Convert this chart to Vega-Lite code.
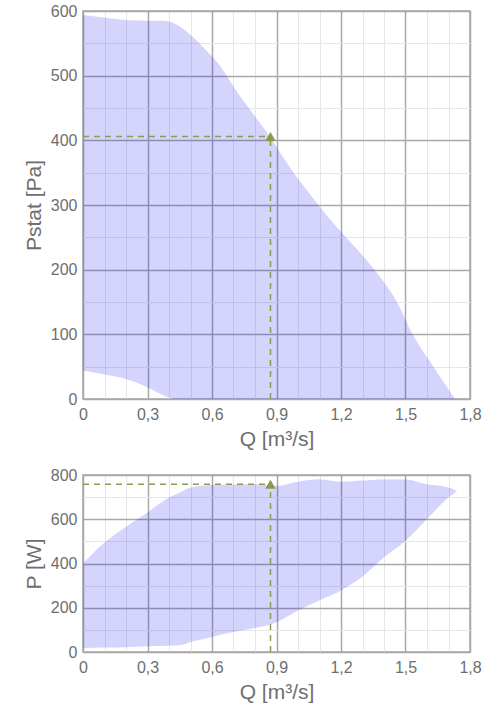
{
  "$schema": "https://vega.github.io/schema/vega-lite/v6.json",
  "padding": {"left": 22, "top": 2, "right": 10, "bottom": 5},
  "spacing": 16,
  "datasets": {
    "pstat": [
      {"q": 0, "hi": 594, "lo": 44},
      {"q": 0.1, "hi": 590, "lo": 38},
      {"q": 0.2, "hi": 586, "lo": 31},
      {"q": 0.3, "hi": 585, "lo": 18},
      {"q": 0.37, "hi": 585, "lo": 6},
      {"q": 0.43, "hi": 580, "lo": 0},
      {"q": 0.45, "hi": 576, "lo": 0},
      {"q": 0.51, "hi": 560, "lo": 0},
      {"q": 0.57, "hi": 540, "lo": 0},
      {"q": 0.64, "hi": 514, "lo": 0},
      {"q": 0.7, "hi": 483, "lo": 0},
      {"q": 0.78, "hi": 446, "lo": 0},
      {"q": 0.87, "hi": 405, "lo": 0},
      {"q": 0.96, "hi": 359, "lo": 0},
      {"q": 1.09, "hi": 302, "lo": 0},
      {"q": 1.19, "hi": 262, "lo": 0},
      {"q": 1.3, "hi": 222, "lo": 0},
      {"q": 1.36, "hi": 198, "lo": 0},
      {"q": 1.46, "hi": 150, "lo": 0},
      {"q": 1.53, "hi": 102, "lo": 0},
      {"q": 1.63, "hi": 50, "lo": 0},
      {"q": 1.73, "hi": 0, "lo": 0}
    ],
    "power": [
      {"q": 0, "hi": 400, "lo": 17},
      {"q": 0.1, "hi": 495, "lo": 20},
      {"q": 0.2, "hi": 566, "lo": 22},
      {"q": 0.3, "hi": 631, "lo": 26},
      {"q": 0.4, "hi": 698, "lo": 28},
      {"q": 0.45, "hi": 720, "lo": 30},
      {"q": 0.5, "hi": 743, "lo": 45},
      {"q": 0.6, "hi": 755, "lo": 68},
      {"q": 0.7, "hi": 757, "lo": 90},
      {"q": 0.8, "hi": 758, "lo": 108},
      {"q": 0.9, "hi": 751, "lo": 135},
      {"q": 1.0, "hi": 770, "lo": 188},
      {"q": 1.1, "hi": 781, "lo": 233},
      {"q": 1.2, "hi": 770, "lo": 278},
      {"q": 1.3, "hi": 775, "lo": 341},
      {"q": 1.4, "hi": 780, "lo": 428},
      {"q": 1.5, "hi": 780, "lo": 503},
      {"q": 1.6, "hi": 758, "lo": 601},
      {"q": 1.7, "hi": 743, "lo": 698},
      {"q": 1.74, "hi": 728, "lo": 728}
    ],
    "opPstat": [{"q0": 0, "q": 0.872, "p0": 0, "p": 406}],
    "opPower": [{"q0": 0, "q": 0.872, "p0": 0, "p": 758}]
  },
  "vconcat": [
    {
      "width": 387,
      "height": 388,
      "resolve": {"axis": {"x": "independent", "y": "independent"}},
      "layer": [
        {
          "data": {"name": "pstat"},
          "mark": {"type": "area", "fill": "#1010f0", "opacity": 0.18, "interpolate": "monotone"},
          "encoding": {
            "x": {"field": "q", "type": "quantitative", "scale": {"domain": [0, 1.8], "nice": false},
              "axis": {"orient": "top", "grid": true, "values": [0.1, 0.2, 0.4, 0.5, 0.7, 0.8, 1.0, 1.1, 1.3, 1.4, 1.6, 1.7], "labels": false, "ticks": false, "domain": false, "title": null, "gridColor": "#e6e6e6", "gridWidth": 1}},
            "y": {"field": "hi", "type": "quantitative", "scale": {"domain": [0, 600], "nice": false},
              "axis": {"orient": "right", "grid": true, "values": [50, 150, 250, 350, 450, 550], "labels": false, "ticks": false, "domain": false, "title": null, "gridColor": "#e6e6e6", "gridWidth": 1}},
            "y2": {"field": "lo"}
          }
        },
        {
          "data": {"name": "opPstat"},
          "mark": {"type": "rule", "color": "#8c9c50", "strokeDash": [6, 5], "strokeWidth": 1.5},
          "encoding": {
            "x": {"field": "q0", "type": "quantitative", "scale": {"domain": [0, 1.8], "nice": false},
              "axis": {"orient": "bottom", "grid": true, "gridColor": "#a8a8a8", "gridWidth": 1.5, "values": [0, 0.3, 0.6, 0.9, 1.2, 1.5, 1.8], "labelExpr": "datum.value == 0 ? '0' : replace(format(datum.value, '.1f'), '.', ',')", "title": "Q [m³/s]"}},
            "x2": {"field": "q"},
            "y": {"field": "p", "type": "quantitative", "scale": {"domain": [0, 600], "nice": false},
              "axis": {"orient": "left", "grid": true, "gridColor": "#a8a8a8", "gridWidth": 1.5, "values": [0, 100, 200, 300, 400, 500, 600], "title": "Pstat [Pa]"}}
          }
        },
        {
          "data": {"name": "opPstat"},
          "mark": {"type": "rule", "color": "#8c9c50", "strokeDash": [6, 5], "strokeWidth": 1.5},
          "encoding": {
            "x": {"field": "q", "type": "quantitative", "axis": null},
            "y": {"field": "p0", "type": "quantitative", "axis": null},
            "y2": {"field": "p"}
          }
        },
        {
          "data": {"name": "opPstat"},
          "mark": {"type": "point", "shape": "triangle-up", "filled": true, "color": "#8a9a48", "size": 110, "opacity": 1},
          "encoding": {
            "x": {"field": "q", "type": "quantitative", "axis": null},
            "y": {"field": "p", "type": "quantitative", "axis": null}
          }
        }
      ]
    },
    {
      "width": 387,
      "height": 177,
      "resolve": {"axis": {"x": "independent", "y": "independent"}},
      "layer": [
        {
          "data": {"name": "power"},
          "mark": {"type": "area", "fill": "#1010f0", "opacity": 0.18, "interpolate": "monotone"},
          "encoding": {
            "x": {"field": "q", "type": "quantitative", "scale": {"domain": [0, 1.8], "nice": false},
              "axis": {"orient": "top", "grid": true, "values": [0.1, 0.2, 0.4, 0.5, 0.7, 0.8, 1.0, 1.1, 1.3, 1.4, 1.6, 1.7], "labels": false, "ticks": false, "domain": false, "title": null, "gridColor": "#e6e6e6", "gridWidth": 1}},
            "y": {"field": "hi", "type": "quantitative", "scale": {"domain": [0, 800], "nice": false},
              "axis": {"orient": "right", "grid": true, "values": [100, 300, 500, 700], "labels": false, "ticks": false, "domain": false, "title": null, "gridColor": "#e6e6e6", "gridWidth": 1}},
            "y2": {"field": "lo"}
          }
        },
        {
          "data": {"name": "opPower"},
          "mark": {"type": "rule", "color": "#8c9c50", "strokeDash": [6, 5], "strokeWidth": 1.5},
          "encoding": {
            "x": {"field": "q0", "type": "quantitative", "scale": {"domain": [0, 1.8], "nice": false},
              "axis": {"orient": "bottom", "grid": true, "gridColor": "#a8a8a8", "gridWidth": 1.5, "values": [0, 0.3, 0.6, 0.9, 1.2, 1.5, 1.8], "labelExpr": "datum.value == 0 ? '0' : replace(format(datum.value, '.1f'), '.', ',')", "title": "Q [m³/s]"}},
            "x2": {"field": "q"},
            "y": {"field": "p", "type": "quantitative", "scale": {"domain": [0, 800], "nice": false},
              "axis": {"orient": "left", "grid": true, "gridColor": "#a8a8a8", "gridWidth": 1.5, "values": [0, 200, 400, 600, 800], "title": "P [W]"}}
          }
        },
        {
          "data": {"name": "opPower"},
          "mark": {"type": "rule", "color": "#8c9c50", "strokeDash": [6, 5], "strokeWidth": 1.5},
          "encoding": {
            "x": {"field": "q", "type": "quantitative", "axis": null},
            "y": {"field": "p0", "type": "quantitative", "axis": null},
            "y2": {"field": "p"}
          }
        },
        {
          "data": {"name": "opPower"},
          "mark": {"type": "point", "shape": "triangle-up", "filled": true, "color": "#8a9a48", "size": 110, "opacity": 1},
          "encoding": {
            "x": {"field": "q", "type": "quantitative", "axis": null},
            "y": {"field": "p", "type": "quantitative", "axis": null}
          }
        }
      ]
    }
  ],
  "config": {
    "font": "Liberation Sans",
    "view": {"stroke": "#a8a8a8", "strokeWidth": 1.5},
    "axis": {
      "domain": false,
      "ticks": false,
      "labelFontSize": 16,
      "labelColor": "#6e6e6e",
      "labelPadding": 6,
      "labelFlush": false,
      "labelOverlap": false,
      "titleFontSize": 21,
      "titleFontWeight": "normal",
      "titleColor": "#6e6e6e",
      "titlePadding": 6
    },
    "axisX": {"labelPadding": 7}
  }
}
